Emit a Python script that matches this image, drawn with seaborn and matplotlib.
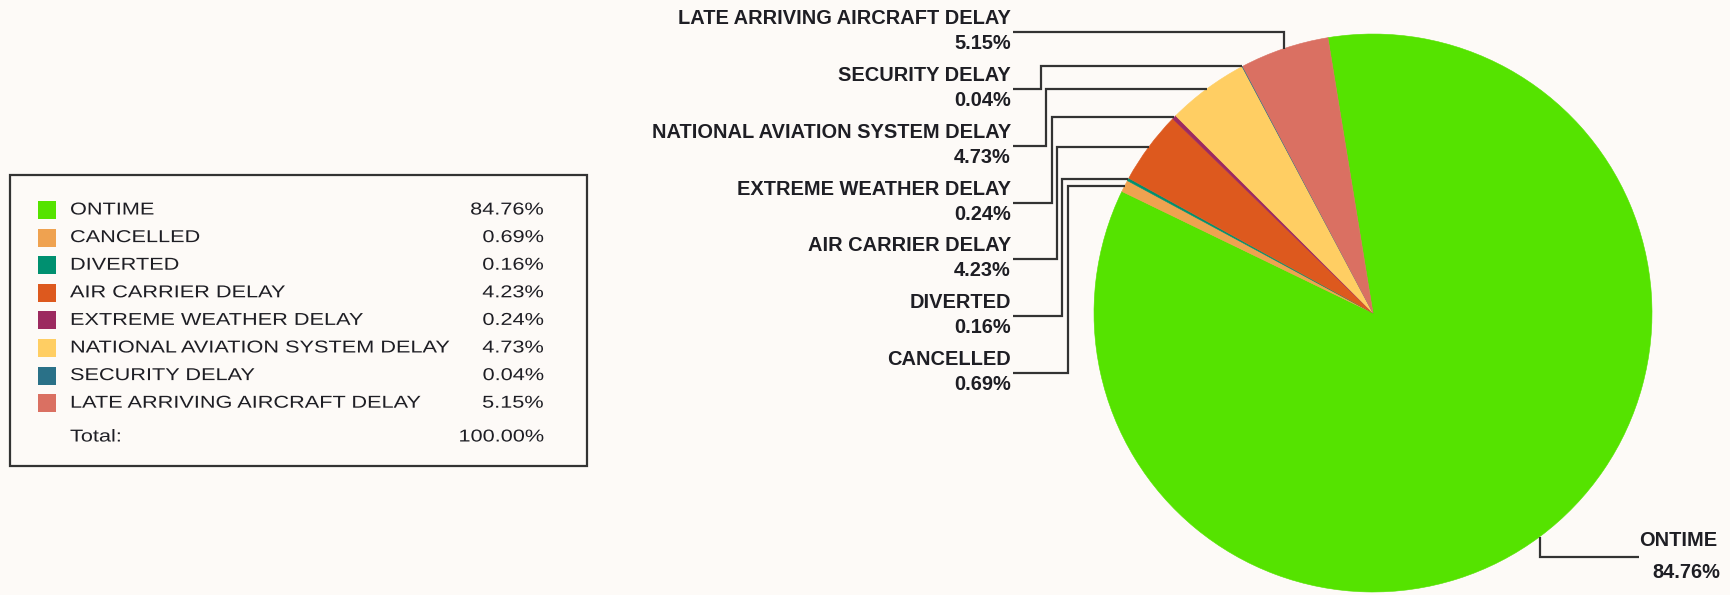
import numpy as np
import matplotlib
matplotlib.use("Agg")
import matplotlib.pyplot as plt
import seaborn as sns
from matplotlib.patches import Rectangle
from matplotlib.patheffects import AbstractPathEffect
from matplotlib.transforms import Affine2D

# ---- data ----
categories = ["ONTIME", "CANCELLED", "DIVERTED", "AIR CARRIER DELAY",
              "EXTREME WEATHER DELAY", "NATIONAL AVIATION SYSTEM DELAY",
              "SECURITY DELAY", "LATE ARRIVING AIRCRAFT DELAY"]
shares = [84.76, 0.69, 0.16, 4.23, 0.24, 4.73, 0.04, 5.15]
hex_colors = ["#55E300", "#EFA250", "#009070", "#DD591E",
              "#9C2A60", "#FFCE63", "#2A7188", "#DA7062"]

# ---- style ----
W, H = 1731, 595
sns.set_theme(style="white")
plt.rcParams['font.family'] = ['Liberation Sans', 'DejaVu Sans']
palette = sns.color_palette(hex_colors)
BG = "#FDFAF7"
LINE = "#333333"
TXT = "#1E1E24"

fig = plt.figure(figsize=(W / 100, H / 100), dpi=100, facecolor=BG)
ax = fig.add_axes([0, 0, 1, 1])
ax.set_facecolor(BG)


def Y(y):
    return H - y


class HStretch(AbstractPathEffect):
    """Widen glyphs horizontally about a fixed anchor (display x)."""

    def __init__(self, sx, x0):
        super().__init__()
        self.sx = sx
        self.x0 = x0

    def draw_path(self, renderer, gc, tpath, affine, rgbFace=None):
        a = affine + Affine2D().translate(-self.x0, 0).scale(self.sx, 1).translate(self.x0, 0)
        renderer.draw_path(gc, tpath, a, rgbFace)


CX, CY, R = 1373, 313, 279
wedges, _ = ax.pie(shares, colors=palette, startangle=99.3, counterclock=False,
                   center=(CX, Y(CY)), radius=R,
                   wedgeprops=dict(linewidth=0.4))
for w in wedges:
    w.set_edgecolor(w.get_facecolor())
ax.set_xlim(0, W)
ax.set_ylim(0, H)
ax.set_aspect('equal')
ax.axis('off')

lab_font = dict(family=['Liberation Sans', 'DejaVu Sans'], weight='bold',
                size=14.4, color=TXT)


def edge_point(w):
    a = np.deg2rad((w.theta1 + w.theta2) / 2)
    return CX + R * np.cos(a), CY - R * np.sin(a)


# left-side labels (all but ONTIME), top to bottom
order = list(range(len(categories) - 1, 0, -1))
for i, k in enumerate(order):
    px, py = edge_point(wedges[k])
    ly = 32 + 56.85 * i
    x0 = 1013
    if py > ly:
        xs = [x0, px, px]
        ys = [ly, ly, py]
    else:
        ex = 1035.5 + 5.4 * i
        xs = [x0, ex, ex, px]
        ys = [ly, ly, py, py]
    ax.plot(xs, [Y(v) for v in ys], color=LINE, lw=1.6,
            solid_joinstyle='miter', solid_capstyle='butt')
    ax.text(1011, Y(ly - 13.5), categories[k], ha='right', va='center', **lab_font)
    ax.text(1011, Y(ly + 11.5), f"{shares[k]:.2f}%", ha='right', va='center', **lab_font)

# ONTIME label (bottom right)
px, py = edge_point(wedges[0])
ly = 557
ax.plot([px, px, 1639], [Y(py), Y(ly), Y(ly)], color=LINE, lw=1.6,
        solid_joinstyle='miter', solid_capstyle='butt')
ax.text(1717, Y(540), categories[0], ha='right', va='center', **lab_font)
ax.text(1720, Y(572), f"{shares[0]:.2f}%", ha='right', va='center', **lab_font)

# ---- legend table ----
SX = 1.26
leg_font = dict(family=['Liberation Sans', 'DejaVu Sans'], size=12.4, color=TXT)
ax.add_patch(Rectangle((10, Y(466)), 577, 291, fill=False, ec=LINE, lw=1.6))
NAME_X, PCT_X = 70, 544
for i, (name, col, s) in enumerate(zip(categories, palette, shares)):
    yc = 210 + 27.6 * i
    ax.add_patch(Rectangle((38, Y(yc + 9)), 18, 18, facecolor=col, lw=0))
    ax.text(NAME_X, Y(yc), name, ha='left', va='center',
            path_effects=[HStretch(SX, NAME_X)], **leg_font)
    ax.text(PCT_X, Y(yc), f"{s:.2f}%", ha='right', va='center',
            path_effects=[HStretch(SX, PCT_X)], **leg_font)
ax.text(NAME_X, Y(437), "Total:", ha='left', va='center',
        path_effects=[HStretch(SX, NAME_X)], **leg_font)
ax.text(PCT_X, Y(437), f"{sum(shares):.2f}%", ha='right', va='center',
        path_effects=[HStretch(SX, PCT_X)], **leg_font)

fig.savefig("out.png", dpi=100, facecolor=BG)
